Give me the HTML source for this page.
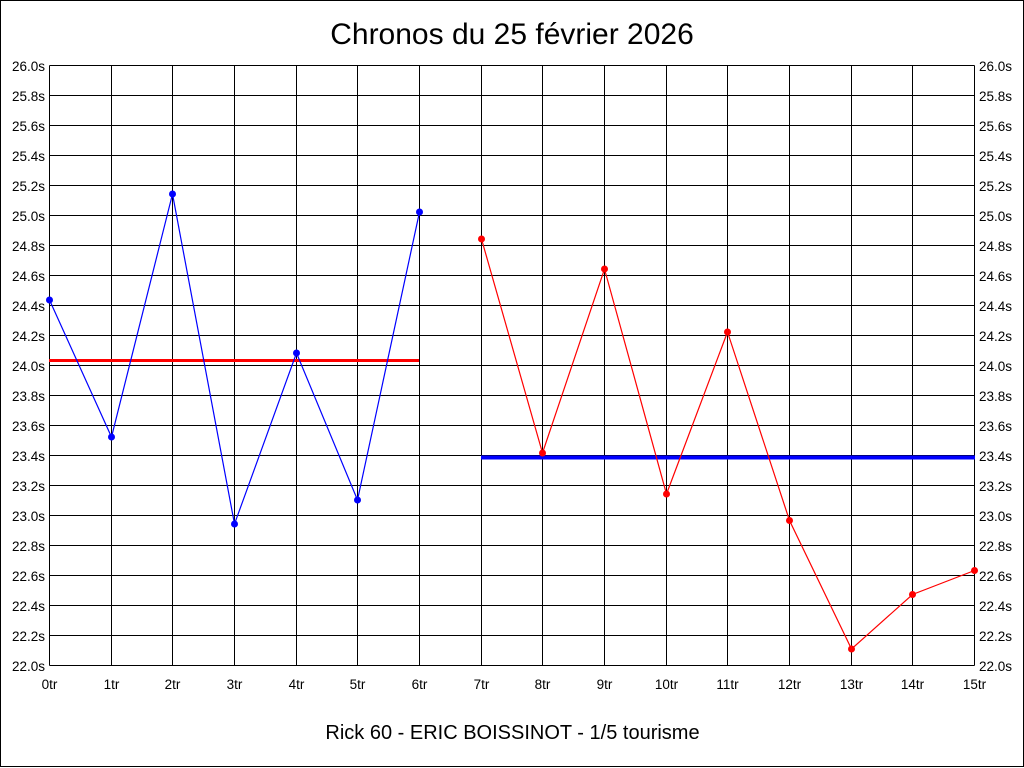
<!DOCTYPE html>
<html><head><meta charset="utf-8"><style>
html,body{margin:0;padding:0;background:#fff;}
svg{display:block;}
text{font-family:"Liberation Sans",Arial,sans-serif;fill:#000;}
</style></head><body>
<svg width="1024" height="768" viewBox="0 0 1024 768" xmlns="http://www.w3.org/2000/svg">
<rect x="0" y="0" width="1024" height="768" fill="#fff"/>
<rect x="0.5" y="0.5" width="1023" height="766" fill="none" stroke="#000" stroke-width="1"/>
<text x="512" y="44" font-size="30" text-anchor="middle">Chronos du 25 février 2026</text>
<text x="512.5" y="739" font-size="20" text-anchor="middle">Rick 60 - ERIC BOISSINOT - 1/5 tourisme</text>
<g id="grid" stroke="#000" stroke-width="1" shape-rendering="crispEdges">
<line x1="49.5" y1="65.5" x2="974.5" y2="65.5"/>
<line x1="49.5" y1="95.5" x2="974.5" y2="95.5"/>
<line x1="49.5" y1="125.5" x2="974.5" y2="125.5"/>
<line x1="49.5" y1="155.5" x2="974.5" y2="155.5"/>
<line x1="49.5" y1="185.5" x2="974.5" y2="185.5"/>
<line x1="49.5" y1="215.5" x2="974.5" y2="215.5"/>
<line x1="49.5" y1="245.5" x2="974.5" y2="245.5"/>
<line x1="49.5" y1="275.5" x2="974.5" y2="275.5"/>
<line x1="49.5" y1="305.5" x2="974.5" y2="305.5"/>
<line x1="49.5" y1="335.5" x2="974.5" y2="335.5"/>
<line x1="49.5" y1="365.5" x2="974.5" y2="365.5"/>
<line x1="49.5" y1="395.5" x2="974.5" y2="395.5"/>
<line x1="49.5" y1="425.5" x2="974.5" y2="425.5"/>
<line x1="49.5" y1="455.5" x2="974.5" y2="455.5"/>
<line x1="49.5" y1="485.5" x2="974.5" y2="485.5"/>
<line x1="49.5" y1="515.5" x2="974.5" y2="515.5"/>
<line x1="49.5" y1="545.5" x2="974.5" y2="545.5"/>
<line x1="49.5" y1="575.5" x2="974.5" y2="575.5"/>
<line x1="49.5" y1="605.5" x2="974.5" y2="605.5"/>
<line x1="49.5" y1="635.5" x2="974.5" y2="635.5"/>
<line x1="49.5" y1="665.5" x2="974.5" y2="665.5"/>
<line x1="49.5" y1="65.5" x2="49.5" y2="665.5"/>
<line x1="111.5" y1="65.5" x2="111.5" y2="665.5"/>
<line x1="172.5" y1="65.5" x2="172.5" y2="665.5"/>
<line x1="234.5" y1="65.5" x2="234.5" y2="665.5"/>
<line x1="296.5" y1="65.5" x2="296.5" y2="665.5"/>
<line x1="357.5" y1="65.5" x2="357.5" y2="665.5"/>
<line x1="419.5" y1="65.5" x2="419.5" y2="665.5"/>
<line x1="481.5" y1="65.5" x2="481.5" y2="665.5"/>
<line x1="542.5" y1="65.5" x2="542.5" y2="665.5"/>
<line x1="604.5" y1="65.5" x2="604.5" y2="665.5"/>
<line x1="666.5" y1="65.5" x2="666.5" y2="665.5"/>
<line x1="727.5" y1="65.5" x2="727.5" y2="665.5"/>
<line x1="789.5" y1="65.5" x2="789.5" y2="665.5"/>
<line x1="851.5" y1="65.5" x2="851.5" y2="665.5"/>
<line x1="912.5" y1="65.5" x2="912.5" y2="665.5"/>
<line x1="974.5" y1="65.5" x2="974.5" y2="665.5"/>
</g>
<g font-size="13.5" text-anchor="end">
<text x="45" y="71">26.0s</text><text x="45" y="101">25.8s</text><text x="45" y="131">25.6s</text>
<text x="45" y="161">25.4s</text><text x="45" y="191">25.2s</text><text x="45" y="221">25.0s</text>
<text x="45" y="251">24.8s</text><text x="45" y="281">24.6s</text><text x="45" y="311">24.4s</text>
<text x="45" y="341">24.2s</text><text x="45" y="371">24.0s</text><text x="45" y="401">23.8s</text>
<text x="45" y="431">23.6s</text><text x="45" y="461">23.4s</text><text x="45" y="491">23.2s</text>
<text x="45" y="521">23.0s</text><text x="45" y="551">22.8s</text><text x="45" y="581">22.6s</text>
<text x="45" y="611">22.4s</text><text x="45" y="641">22.2s</text><text x="45" y="671">22.0s</text>
</g>
<g font-size="13.5" text-anchor="start">
<text x="979" y="71">26.0s</text><text x="979" y="101">25.8s</text><text x="979" y="131">25.6s</text>
<text x="979" y="161">25.4s</text><text x="979" y="191">25.2s</text><text x="979" y="221">25.0s</text>
<text x="979" y="251">24.8s</text><text x="979" y="281">24.6s</text><text x="979" y="311">24.4s</text>
<text x="979" y="341">24.2s</text><text x="979" y="371">24.0s</text><text x="979" y="401">23.8s</text>
<text x="979" y="431">23.6s</text><text x="979" y="461">23.4s</text><text x="979" y="491">23.2s</text>
<text x="979" y="521">23.0s</text><text x="979" y="551">22.8s</text><text x="979" y="581">22.6s</text>
<text x="979" y="611">22.4s</text><text x="979" y="641">22.2s</text><text x="979" y="671">22.0s</text>
</g>
<g font-size="13.5" text-anchor="middle">
<text x="49.5" y="689">0tr</text><text x="111.5" y="689">1tr</text><text x="172.5" y="689">2tr</text>
<text x="234.5" y="689">3tr</text><text x="296.5" y="689">4tr</text><text x="357.5" y="689">5tr</text>
<text x="419.5" y="689">6tr</text><text x="481.5" y="689">7tr</text><text x="542.5" y="689">8tr</text>
<text x="604.5" y="689">9tr</text><text x="666.5" y="689">10tr</text><text x="727.5" y="689">11tr</text>
<text x="789.5" y="689">12tr</text><text x="851.5" y="689">13tr</text><text x="912.5" y="689">14tr</text>
<text x="974.5" y="689">15tr</text>
</g>
<line x1="49" y1="360.5" x2="419" y2="360.5" stroke="#ff0000" stroke-width="3"/>
<line x1="481" y1="457.5" x2="975" y2="457.5" stroke="#0000ff" stroke-width="4"/>
<polyline fill="none" stroke="#0000ff" stroke-width="1.2" points="49.5,300 111.5,437 172.5,194 234.5,524 296.5,353 357.5,500 419.5,212"/>
<g fill="#0000ff">
<circle cx="49.5" cy="300" r="3.5"/><circle cx="111.5" cy="437" r="3.5"/><circle cx="172.5" cy="194" r="3.5"/>
<circle cx="234.5" cy="524" r="3.5"/><circle cx="296.5" cy="353" r="3.5"/><circle cx="357.5" cy="500" r="3.5"/>
<circle cx="419.5" cy="212" r="3.5"/>
</g>
<polyline fill="none" stroke="#ff0000" stroke-width="1.2" points="481.5,239 542.5,453 604.5,269 666.5,494 727.5,332 789.5,520.5 851.5,649 912.5,594.5 974.5,570.5"/>
<g fill="#ff0000">
<circle cx="481.5" cy="239" r="3.5"/><circle cx="542.5" cy="453" r="3.5"/><circle cx="604.5" cy="269" r="3.5"/>
<circle cx="666.5" cy="494" r="3.5"/><circle cx="727.5" cy="332" r="3.5"/><circle cx="789.5" cy="520.5" r="3.5"/>
<circle cx="851.5" cy="649" r="3.5"/><circle cx="912.5" cy="594.5" r="3.5"/><circle cx="974.5" cy="570.5" r="3.5"/>
</g>
</svg>
</body></html>
